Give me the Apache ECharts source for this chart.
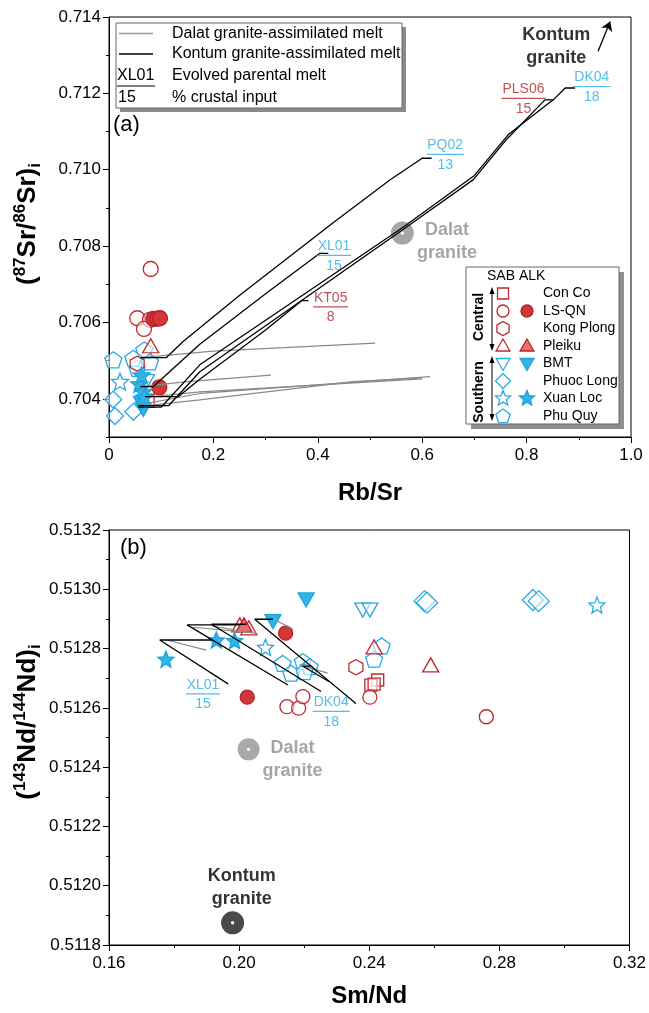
<!DOCTYPE html>
<html><head><meta charset="utf-8">
<script src="https://cdn.jsdelivr.net/npm/echarts@6/dist/echarts.min.js"></script>
<style>html,body{margin:0;padding:0;background:#fff}#c{width:649px;height:1013px}</style>
</head><body><div id="c"></div>
<script>
// ================= DATA =================
// axis ticks
const xTicksA = [0, 0.2, 0.4, 0.6, 0.8, 1.0];
const yTicksA = [0.704, 0.706, 0.708, 0.710, 0.712, 0.714];
const yMinorA = [0.703, 0.705, 0.707, 0.709, 0.711, 0.713];
const xTicksB = [0.16, 0.20, 0.24, 0.28, 0.32];
const yTicksB = [0.5118, 0.5120, 0.5122, 0.5124, 0.5126, 0.5128, 0.5130, 0.5132];
const yMinorB = [0.5119, 0.5121, 0.5123, 0.5125, 0.5127, 0.5129, 0.5131];

// legend categories
const legendLines = ['Dalat granite-assimilated melt', 'Kontum granite-assimilated melt', 'Evolved parental melt', '% crustal input'];
const legendSample = ['XL01', '15'];
const groups = ['Con Co', 'LS-QN', 'Kong Plong', 'Pleiku', 'BMT', 'Phuoc Long', 'Xuan Loc', 'Phu Quy'];

// ---- panel (a): Rb/Sr vs (87Sr/86Sr)i ----
const a_ConCo_open    = [[0.074, 0.70395]];
const a_LSQN_open     = [[0.0799, 0.70740], [0.0542, 0.70611], [0.0785, 0.70607], [0.0670, 0.70583]];
const a_LSQN_fill     = [[0.0849, 0.70609], [0.0925, 0.70610], [0.0977, 0.70611], [0.0964, 0.70430]];
const a_KongPlong     = [[0.054, 0.70492]];
const a_Pleiku_open   = [[0.0799, 0.70539]];
const a_BMT_open      = [[0.072, 0.70445]];
const a_BMT_fill      = [[0.0657, 0.70372], [0.062, 0.70388]];
const a_PhuocLong     = [[0.0115, 0.70355], [0.0466, 0.70366], [0.008, 0.70398]];
const a_XuanLoc_open  = [[0.0211, 0.70445]];
const a_XuanLoc_fill  = [[0.058, 0.70439], [0.0657, 0.70419], [0.0626, 0.70462], [0.068, 0.70405]];
const a_PhuQuy        = [[0.0083, 0.70502], [0.0676, 0.70528], [0.0542, 0.70480], [0.0785, 0.70497], [0.0466, 0.70506]];

// Kontum granite-assimilated melt curves (a)
const a_K_PQ02  = [[0.06, 0.70508], [0.11, 0.70508], [0.142, 0.70550], [0.251, 0.70672], [0.43, 0.70862], [0.538, 0.70973], [0.60, 0.71030], [0.618, 0.71030]];
const a_K_XL01  = [[0.06, 0.70432], [0.085, 0.70432], [0.174, 0.70543], [0.30, 0.70675], [0.404, 0.70781], [0.42, 0.70781]];
const a_K_KT05  = [[0.069, 0.70406], [0.133, 0.70406], [0.174, 0.70451], [0.30, 0.70580], [0.369, 0.70657], [0.382, 0.70657]];
const a_K_PLS06 = [[0.056, 0.70382], [0.114, 0.70382], [0.174, 0.70471], [0.562, 0.70842], [0.698, 0.70974], [0.762, 0.71080], [0.835, 0.71183], [0.852, 0.71183]];
const a_K_DK04  = [[0.056, 0.70378], [0.10, 0.70378], [0.174, 0.70489], [0.562, 0.70848], [0.70, 0.70985], [0.765, 0.71092], [0.851, 0.71183], [0.874, 0.71214], [0.893, 0.71214]];
// Dalat granite-assimilated melt curves (a)
const a_D1 = [[0.06, 0.70508], [0.20, 0.70525], [0.51, 0.70546]];
const a_D2 = [[0.06, 0.70432], [0.15, 0.70445], [0.31, 0.70462]];
const a_D3 = [[0.06, 0.70385], [0.174, 0.70414], [0.615, 0.70458]];
const a_D4 = [[0.06, 0.70380], [0.174, 0.70397], [0.467, 0.70445], [0.60, 0.70455]];
const a_D5 = [[0.07, 0.70404], [0.174, 0.70418], [0.60, 0.70452]];

const a_Dalat = [[0.562, 0.70834]];
const a_KontumArrow = [[0.937, 0.71310], [0.960, 0.71388]];

// annotations (a): [x, y, name, pct, colour]
const a_notes = [
  [0.431, 0.70772, 'XL01', '15', 'blue'],
  [0.644, 0.710365, 'PQ02', '13', 'blue'],
  [0.925, 0.71214, 'DK04', '18', 'blue'],
  [0.794, 0.71183, 'PLS06', '15', 'red'],
  [0.4247, 0.70637, 'KT05', '8', 'red']
];
const a_graniteLabels = [[0.857, 0.71323, 'Kontum\ngranite', 'k'], [0.6475, 0.70812, 'Dalat\ngranite', 'g']];

// ---- panel (b): Sm/Nd vs (143Nd/144Nd)i ----
const b_ConCo_open    = [[0.2426, 0.512694], [0.2405, 0.512677], [0.2415, 0.51268]];
const b_LSQN_open     = [[0.2147, 0.512604], [0.2183, 0.512599], [0.2196, 0.512638], [0.2402, 0.512636], [0.276, 0.51257]];
const b_LSQN_fill     = [[0.2143, 0.512852], [0.2025, 0.512636]];
const b_KongPlong     = [[0.2359, 0.512737]];
const b_Pleiku_open   = [[0.2002, 0.51288], [0.2030, 0.51287], [0.2415, 0.512806], [0.2589, 0.512745]];
const b_Pleiku_fill   = [[0.2015, 0.51288]];
const b_BMT_open      = [[0.238, 0.51293], [0.2402, 0.51293]];
const b_BMT_fill      = [[0.2206, 0.512964], [0.2104, 0.512891]];
const b_PhuocLong     = [[0.2570, 0.51296], [0.2578, 0.512955], [0.2903, 0.512964], [0.2921, 0.51296]];
const b_XuanLoc_open  = [[0.2081, 0.512804], [0.310, 0.512947]];
const b_XuanLoc_fill  = [[0.1775, 0.512764], [0.193, 0.512829], [0.1986, 0.512827]];
const b_PhuQuy        = [[0.2134, 0.51275], [0.216, 0.512717], [0.2196, 0.512756], [0.2217, 0.512739], [0.2201, 0.512722], [0.2438, 0.512809], [0.2415, 0.512764]];

const b_K1 = [[0.1915, 0.512829], [0.1756, 0.512829], [0.1966, 0.512681]];
const b_K2 = [[0.2001, 0.51288], [0.184, 0.51288], [0.215, 0.512677]];
const b_K3 = [[0.2022, 0.512882], [0.1915, 0.512882], [0.2252, 0.512655]];
const b_K4 = [[0.2104, 0.512899], [0.2048, 0.512899], [0.2359, 0.512615]];
const b_K5 = [[0.2225, 0.512741], [0.2195, 0.512741], [0.2277, 0.512688]];
const b_D1 = [[0.1777, 0.512829], [0.1899, 0.512795]];
const b_D2 = [[0.1858, 0.512872], [0.2053, 0.512852]];
const b_D3 = [[0.1919, 0.512875], [0.2032, 0.512855]];
const b_D4 = [[0.2114, 0.512895], [0.2165, 0.512866]];
const b_D5 = [[0.2185, 0.512745], [0.2272, 0.512717]];

const b_Dalat = [[0.2029, 0.51246]];
const b_Kontum = [[0.198, 0.511875]];
const b_notes = [
  [0.1889, 0.512642, 'XL01', '15', 'blue'],
  [0.2283, 0.512583, 'DK04', '18', 'blue']
];
const b_graniteLabels = [[0.2164, 0.512424, 'Dalat\ngranite', 'g'], [0.2008, 0.511994, 'Kontum\ngranite', 'k']];

// ================= STYLE =================
const FONT = '"Liberation Sans", Arial, Helvetica, sans-serif';
const RED = '#C1272D', RED_TXT = '#B3262B', BLUE = '#29ABE2';
const OPEN_FILL = 'rgba(255,255,255,0.55)';
const LSQN_FILL = '#D0383A', PLEIKU_FILL = '#EE6B70', BLUE_FILL = '#2FB5EA';
const COLORS = { red: RED_TXT, blue: BLUE };

function starPts(cx, cy, R, r) {
  const p = [];
  for (let i = 0; i < 10; i++) {
    const a = (-90 + i * 36) * Math.PI / 180, rad = i % 2 ? r : R;
    p.push([cx + rad * Math.cos(a), cy + rad * Math.sin(a)]);
  }
  return p;
}
function polyPts(cx, cy, R, n, startDeg) {
  const p = [];
  for (let i = 0; i < n; i++) {
    const a = (startDeg + i * 360 / n) * Math.PI / 180;
    p.push([cx + R * Math.cos(a), cy + R * Math.sin(a)]);
  }
  return p;
}
const toPath = pts => 'path://M' + pts.map(q => q[0].toFixed(3) + ',' + q[1].toFixed(3)).join('L') + 'Z';
const SYM = {
  circle: 'circle',
  square: 'rect',
  hexagon: toPath(polyPts(0, 0, 1, 6, -90)),
  triUp: toPath(polyPts(0, 0, 1, 3, -90)),
  triDown: toPath(polyPts(0, 0, 1, 3, 90)),
  diamond: 'diamond',
  star: toPath(starPts(0, 0, 1, 0.45)),
  pentagon: toPath(polyPts(0, 0, 1, 5, -90))
};

function sc(data, xi, yi, sym, size, stroke, fill, z) {
  return {
    type: 'scatter', xAxisIndex: xi, yAxisIndex: yi, data: data, symbol: SYM[sym], symbolSize: size,
    itemStyle: { color: fill, borderColor: stroke, borderWidth: 1.3, opacity: 1 },
    z: z || 2, silent: true, animation: false
  };
}
function ln(data, xi, yi, color, width, z) {
  return {
    type: 'line', xAxisIndex: xi, yAxisIndex: yi, data: data, symbol: 'none', showSymbol: false,
    lineStyle: { color: color, width: width }, z: z || 3, silent: true, animation: false
  };
}
const mctx = document.createElement('canvas').getContext('2d');
function tw(s, px) { mctx.font = px + 'px ' + FONT; return mctx.measureText(s).width; }

function noteSeries(xi, yi, n) {
  const col = COLORS[n[4]];
  const w = Math.ceil(tw(n[2], 14)) + 1;
  return {
    type: 'scatter', xAxisIndex: xi, yAxisIndex: yi, data: [[n[0], n[1]]], symbolSize: 0, silent: true, z: 8, animation: false,
    label: {
      show: true, position: 'inside',
      formatter: '{n|' + n[2] + '}\n{u| }\n{p|' + n[3] + '}',
      rich: {
        n: { fontFamily: FONT, fontSize: 14, color: col, width: w, align: 'center', lineHeight: 15 },
        u: { fontSize: 1, width: w, height: 1.2, backgroundColor: col, lineHeight: 3 },
        p: { fontFamily: FONT, fontSize: 14, color: col, width: w, align: 'center', lineHeight: 18 }
      }
    }
  };
}
function graniteLabel(xi, yi, g) {
  return {
    type: 'scatter', xAxisIndex: xi, yAxisIndex: yi, data: [[g[0], g[1]]], symbolSize: 0, silent: true, z: 8, animation: false,
    label: {
      show: true, position: 'inside', formatter: g[2], fontFamily: FONT, fontWeight: 'bold', fontSize: 18,
      lineHeight: 23, color: g[3] === 'k' ? '#000' : '#8E8E8E', align: 'center'
    }
  };
}

// size sets per panel
const SZ_A = { circle: 15, square: 13, hexagon: [14, 15], triUp: [16, 14], triDown: [16, 14], diamond: 17, star: 17, pentagon: [17, 16] };
const SZ_B = { circle: 14, square: 12, hexagon: [14, 15], triUp: [16, 14], triDown: [16, 14], diamond: 21, star: 16, pentagon: [17, 16] };

function panelSeries(xi, yi, S, d) {
  return [
    sc(d.PhuocLong, xi, yi, 'diamond', S.diamond, BLUE, OPEN_FILL),
    sc(d.PhuQuy, xi, yi, 'pentagon', S.pentagon, BLUE, OPEN_FILL),
    sc(d.BMT_open, xi, yi, 'triDown', S.triDown, BLUE, OPEN_FILL),
    sc(d.XuanLoc_open, xi, yi, 'star', S.star, BLUE, OPEN_FILL),
    sc(d.ConCo_open, xi, yi, 'square', S.square, RED, OPEN_FILL),
    sc(d.KongPlong, xi, yi, 'hexagon', S.hexagon, RED, OPEN_FILL),
    sc(d.LSQN_open, xi, yi, 'circle', S.circle, RED, OPEN_FILL),
    sc(d.Pleiku_open, xi, yi, 'triUp', S.triUp, RED, OPEN_FILL),
    sc(d.Pleiku_fill || [], xi, yi, 'triUp', S.triUp, RED, PLEIKU_FILL),
    sc(d.LSQN_fill, xi, yi, 'circle', S.circle, '#B52326', LSQN_FILL),
    sc(d.BMT_fill, xi, yi, 'triDown', S.triDown, '#1FA3DA', BLUE_FILL),
    sc(d.XuanLoc_fill, xi, yi, 'star', S.star, '#1FA3DA', BLUE_FILL)
  ];
}

const series = [];
// panel a
series.push(sc(a_Dalat, 0, 0, 'circle', 23, 'rgba(0,0,0,0)', 'rgba(150,150,150,0.85)', 1));
series.push(sc(a_Dalat, 0, 0, 'circle', 2, '#fff', '#fff', 4));
panelSeries(0, 0, SZ_A, {
  PhuocLong: a_PhuocLong, PhuQuy: a_PhuQuy, BMT_open: a_BMT_open, XuanLoc_open: a_XuanLoc_open,
  ConCo_open: a_ConCo_open, KongPlong: a_KongPlong, LSQN_open: a_LSQN_open, Pleiku_open: a_Pleiku_open,
  LSQN_fill: a_LSQN_fill, BMT_fill: a_BMT_fill, XuanLoc_fill: a_XuanLoc_fill
}).forEach(s => series.push(s));
[a_D1, a_D2, a_D3, a_D4, a_D5].forEach(d => series.push(ln(d, 0, 0, '#8A8A8A', 1.2, 3)));
[a_K_PQ02, a_K_XL01, a_K_KT05, a_K_PLS06, a_K_DK04].forEach(d => series.push(ln(d, 0, 0, '#000', 1.3, 4)));
series.push({
  type: 'lines', coordinateSystem: 'cartesian2d', xAxisIndex: 0, yAxisIndex: 0, silent: true, animation: false,
  data: [{ coords: a_KontumArrow }], symbol: ['none', 'arrow'], symbolSize: 9,
  lineStyle: { color: '#000', width: 1.3, opacity: 1 }, itemStyle: { color: '#000' }, z: 5
});
a_notes.forEach(n => series.push(noteSeries(0, 0, n)));
a_graniteLabels.forEach(g => series.push(graniteLabel(0, 0, g)));

// panel b
series.push(sc(b_Dalat, 1, 2, 'circle', 22, 'rgba(0,0,0,0)', 'rgba(160,160,160,0.9)', 1));
series.push(sc(b_Dalat, 1, 2, 'circle', 2, '#fff', '#fff', 4));
series.push(sc(b_Kontum, 1, 2, 'circle', 23, 'rgba(0,0,0,0)', '#4A4A4A', 1));
series.push(sc(b_Kontum, 1, 2, 'circle', 2, '#fff', '#fff', 4));
panelSeries(1, 2, SZ_B, {
  PhuocLong: b_PhuocLong, PhuQuy: b_PhuQuy, BMT_open: b_BMT_open, XuanLoc_open: b_XuanLoc_open,
  ConCo_open: b_ConCo_open, KongPlong: b_KongPlong, LSQN_open: b_LSQN_open, Pleiku_open: b_Pleiku_open,
  Pleiku_fill: b_Pleiku_fill, LSQN_fill: b_LSQN_fill, BMT_fill: b_BMT_fill, XuanLoc_fill: b_XuanLoc_fill
}).forEach(s => series.push(s));
[b_D1, b_D2, b_D3, b_D4, b_D5].forEach(d => series.push(ln(d, 1, 2, '#8A8A8A', 1.2, 3)));
[b_K1, b_K2, b_K3, b_K4, b_K5].forEach(d => series.push(ln(d, 1, 2, '#000', 1.3, 4)));
b_notes.forEach(n => series.push(noteSeries(1, 2, n)));
b_graniteLabels.forEach(g => series.push(graniteLabel(1, 2, g)));

// ================= AXES =================
const tickLbl = { fontFamily: FONT, fontSize: 17, color: '#000' };
const axLine = { show: true, onZero: false, lineStyle: { color: '#000', width: 1 } };
function yMain(gi, min, max, ticks, dec) {
  return {
    type: 'value', gridIndex: gi, min: min, max: max, position: 'left',
    axisLine: axLine, splitLine: { show: false },
    axisTick: { show: true, customValues: ticks, length: 6, lineStyle: { color: '#000' } },
    axisLabel: Object.assign({ customValues: ticks, margin: 8, formatter: v => v.toFixed(dec) }, tickLbl)
  };
}
function yMinor(gi, min, max, ticks) {
  return {
    type: 'value', gridIndex: gi, min: min, max: max, position: 'left', offset: 0,
    axisLine: { show: false }, splitLine: { show: false },
    axisTick: { show: true, customValues: ticks, length: 3, lineStyle: { color: '#000' } },
    axisLabel: { show: false }
  };
}
function xAx(gi, min, max, interval, fmt, name, gap) {
  return {
    type: 'value', gridIndex: gi, min: min, max: max, interval: interval, position: 'bottom',
    axisLine: axLine, splitLine: { show: false },
    axisTick: { show: true, length: 6, lineStyle: { color: '#000' } },
    minorTick: { show: true, splitNumber: 2, length: 3, lineStyle: { color: '#000' } },
    axisLabel: Object.assign({ margin: 10, formatter: fmt }, tickLbl),
    name: name, nameLocation: 'middle', nameGap: gap,
    nameTextStyle: { fontFamily: FONT, fontSize: 24, fontWeight: 'bold', color: '#000' }
  };
}

// ================= LEGENDS & TEXT (graphic) =================
const G = [];
function txt(x, y, s, opt) {
  const st = Object.assign({ text: s, fontFamily: FONT, fontSize: 16, fill: '#000', align: 'left', verticalAlign: 'middle', textAlign: 'left', textVerticalAlign: 'middle' }, opt || {});
  return { type: 'text', x: x, y: y, z: 100, style: st, silent: true };
}
// y-axis titles
const nameRich = {
  p: { fontFamily: FONT, fontSize: 26, fontWeight: 'bold', fill: '#000', lineHeight: 32 },
  s: { fontFamily: FONT, fontSize: 17, fontWeight: 'bold', fill: '#000', verticalAlign: 'top', lineHeight: 32 },
  b: { fontFamily: FONT, fontSize: 17, fontWeight: 'bold', fill: '#000', verticalAlign: 'bottom', lineHeight: 32 }
};
G.push({ type: 'text', x: 28, y: 224, rotation: Math.PI / 2, z: 100, silent: true,
  style: { text: '{p|(}{s|87}{p|Sr/}{s|86}{p|Sr)}{b|i}', rich: nameRich, align: 'center', verticalAlign: 'middle' } });
G.push({ type: 'text', x: 28, y: 722, rotation: Math.PI / 2, z: 100, silent: true,
  style: { text: '{p|(}{s|143}{p|Nd/}{s|144}{p|Nd)}{b|i}', rich: nameRich, align: 'center', verticalAlign: 'middle' } });

// top-left legend
G.push({ type: 'rect', z: 98, shape: { x: 120, y: 27, width: 286, height: 85 }, style: { fill: '#8A8A8A' }, silent: true });
G.push({ type: 'rect', z: 99, shape: { x: 116, y: 23, width: 286, height: 85 }, style: { fill: '#fff', stroke: '#666', lineWidth: 1 }, silent: true });
G.push({ type: 'line', z: 100, shape: { x1: 119, y1: 33.5, x2: 153, y2: 33.5 }, style: { stroke: '#999', lineWidth: 1.3 }, silent: true });
G.push({ type: 'line', z: 100, shape: { x1: 119, y1: 54, x2: 153, y2: 54 }, style: { stroke: '#000', lineWidth: 1.3 }, silent: true });
G.push(txt(117, 76, legendSample[0]));
G.push({ type: 'line', z: 100, shape: { x1: 117, y1: 86, x2: 155, y2: 86 }, style: { stroke: '#000', lineWidth: 1 }, silent: true });
G.push(txt(118, 98, legendSample[1]));
[33.5, 54, 76, 98].forEach((y, i) => G.push(txt(172, y, legendLines[i])));
G.push(txt(113, 125, '(a)', { fontSize: 22 }));
G.push(txt(120, 548, '(b)', { fontSize: 22 }));

// right legend
G.push({ type: 'rect', z: 98, shape: { x: 471, y: 272, width: 153, height: 157 }, style: { fill: '#8F8F8F' }, silent: true });
G.push({ type: 'rect', z: 99, shape: { x: 466, y: 267, width: 153, height: 157 }, style: { fill: '#fff', stroke: '#666', lineWidth: 1 }, silent: true });
G.push(txt(487, 276, 'SAB ALK', { fontSize: 14 }));
const rowsY = [293.5, 311, 328.5, 346, 363.5, 381, 398.5, 416];
const openSym = ['square', 'circle', 'hexagon', 'triUp', 'triDown', 'diamond', 'star', 'pentagon'];
const fillSym = [null, 'circle', null, 'triUp', 'triDown', null, 'star', null];
function glyph(type, cx, cy, stroke, fill) {
  const st = { fill: fill, stroke: stroke, lineWidth: 1.3 };
  if (type === 'circle') return { type: 'circle', z: 101, shape: { cx: cx, cy: cy, r: 6 }, style: st, silent: true };
  if (type === 'square') return { type: 'rect', z: 101, shape: { x: cx - 5.5, y: cy - 5.5, width: 11, height: 11 }, style: st, silent: true };
  let pts;
  if (type === 'hexagon') pts = polyPts(cx, cy, 7, 6, -90);
  if (type === 'triUp') pts = polyPts(cx, cy + 1, 8, 3, -90);
  if (type === 'triDown') pts = polyPts(cx, cy - 1, 8, 3, 90);
  if (type === 'diamond') pts = polyPts(cx, cy, 7.5, 4, -90);
  if (type === 'star') pts = starPts(cx, cy, 8, 3.6);
  if (type === 'pentagon') pts = polyPts(cx, cy + 0.5, 7.5, 5, -90);
  return { type: 'polygon', z: 101, shape: { points: pts }, style: st, silent: true };
}
groups.forEach((g, i) => {
  const isRed = i < 4;
  const stroke = isRed ? RED : BLUE;
  G.push(glyph(openSym[i], 503, rowsY[i], stroke, '#fff'));
  if (fillSym[i]) {
    const f = isRed ? (fillSym[i] === 'circle' ? LSQN_FILL : PLEIKU_FILL) : BLUE_FILL;
    G.push(glyph(fillSym[i], 527, rowsY[i], isRed ? '#B52326' : '#1FA3DA', f));
  }
  G.push(txt(543, rowsY[i], g, { fontSize: 14 }));
});
G.push(txt(479, 317, 'Central', { fontSize: 14, fontWeight: 'bold', align: 'center', textAlign: 'center' }));
G[G.length - 1].rotation = Math.PI / 2;
G.push(txt(479, 392, 'Southern', { fontSize: 14, fontWeight: 'bold', align: 'center', textAlign: 'center' }));
G[G.length - 1].rotation = Math.PI / 2;
function vArrow(x, y1, y2) {
  G.push({ type: 'line', z: 100, shape: { x1: x, y1: y1 + 4, x2: x, y2: y2 - 4 }, style: { stroke: '#000', lineWidth: 1 }, silent: true });
  G.push({ type: 'polygon', z: 100, shape: { points: [[x, y1], [x - 2.5, y1 + 7], [x + 2.5, y1 + 7]] }, style: { fill: '#000' }, silent: true });
  G.push({ type: 'polygon', z: 100, shape: { points: [[x, y2], [x - 2.5, y2 - 7], [x + 2.5, y2 - 7]] }, style: { fill: '#000' }, silent: true });
}
vArrow(492, 287, 351);
vArrow(492, 356, 421);

// ================= CHART =================
const chart = echarts.init(document.getElementById('c'), null, { renderer: 'canvas' });
chart.setOption({
  animation: false,
  backgroundColor: '#fff',
  grid: [
    { left: 109, top: 17, width: 522, height: 420, containLabel: false, show: true, borderColor: '#000', borderWidth: 1, backgroundColor: 'rgba(0,0,0,0)' },
    { left: 109, top: 530, width: 522, height: 415, containLabel: false, show: true, borderColor: '#000', borderWidth: 1, backgroundColor: 'rgba(0,0,0,0)' }
  ],
  xAxis: [
    xAx(0, 0, 1, 0.2, v => (v === 0 ? '0' : v.toFixed(1)), 'Rb/Sr', 44),
    xAx(1, 0.16, 0.32, 0.04, v => v.toFixed(2), 'Sm/Nd', 39)
  ],
  yAxis: [
    yMain(0, 0.703, 0.714, yTicksA, 3),
    yMinor(0, 0.703, 0.714, yMinorA),
    yMain(1, 0.5118, 0.5132, yTicksB, 4),
    yMinor(1, 0.5118, 0.5132, yMinorB)
  ],
  graphic: G,
  series: series
});
</script>
</body></html>
